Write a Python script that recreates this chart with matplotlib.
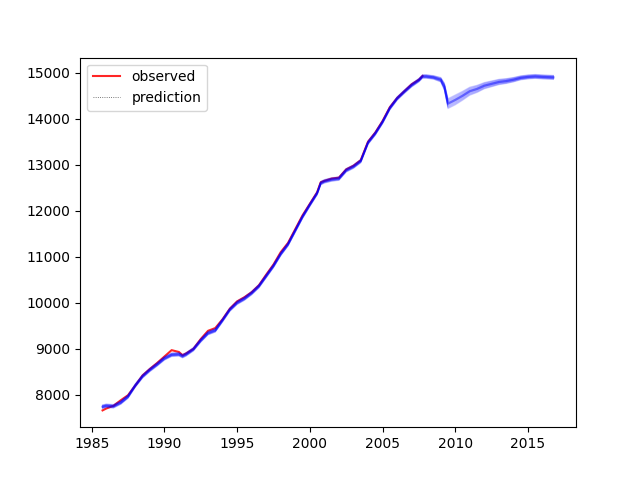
import numpy as np
import matplotlib
matplotlib.use("Agg")
import matplotlib.pyplot as plt

obs_t = [1985.75, 1986.0, 1986.5, 1987.0, 1987.5, 1988.0, 1988.5, 1989.0, 1989.5, 1990.0,
         1990.5, 1991.0, 1991.25, 1991.5, 1992.0, 1992.5, 1993.0, 1993.5, 1994.0, 1994.5,
         1995.0, 1995.5, 1996.0, 1996.5, 1997.0, 1997.5, 1998.0, 1998.5, 1999.0, 1999.5,
         2000.0, 2000.5, 2000.75, 2001.0, 2001.5, 2002.0, 2002.5, 2003.0, 2003.5, 2004.0,
         2004.5, 2005.0, 2005.5, 2006.0, 2006.5, 2007.0, 2007.5, 2007.75]
obs_v = [7660, 7700, 7760, 7880, 7990, 8200, 8420, 8560, 8690, 8830,
         8970, 8930, 8860, 8900, 9000, 9210, 9390, 9450, 9640, 9870,
         10030, 10120, 10230, 10380, 10610, 10830, 11100, 11300, 11600, 11900,
         12150, 12400, 12620, 12650, 12700, 12720, 12900, 12980, 13100, 13500,
         13700, 13950, 14250, 14450, 14600, 14750, 14850, 14930]

pred_t = [1985.75, 1986.0, 1986.5, 1987.0, 1987.5, 1988.0, 1988.5, 1989.0, 1989.5, 1990.0,
          1990.5, 1991.0, 1991.25, 1991.5, 1992.0, 1992.5, 1993.0, 1993.5, 1994.0, 1994.5,
          1995.0, 1995.5, 1996.0, 1996.5, 1997.0, 1997.5, 1998.0, 1998.5, 1999.0, 1999.5,
          2000.0, 2000.5, 2000.75, 2001.0, 2001.5, 2002.0, 2002.5, 2003.0, 2003.5, 2004.0,
          2004.5, 2005.0, 2005.5, 2006.0, 2006.5, 2007.0, 2007.5, 2007.75, 2008.0, 2008.5,
          2009.0, 2009.25, 2009.5, 2010.0, 2010.5, 2011.0, 2011.5, 2012.0, 2012.5, 2013.0,
          2013.5, 2014.0, 2014.5, 2015.0, 2015.5, 2016.0, 2016.75]
pred_v = [7740, 7760, 7750, 7830, 7960, 8200, 8400, 8540, 8660, 8790,
          8870, 8880, 8840, 8880, 8990, 9180, 9340, 9400, 9620, 9850,
          10000, 10090, 10210, 10360, 10580, 10800, 11060, 11270, 11570, 11870,
          12130, 12380, 12600, 12640, 12680, 12700, 12880, 12960, 13080, 13480,
          13680, 13930, 14230, 14440, 14590, 14730, 14840, 14920, 14920, 14900,
          14850, 14700, 14330, 14410, 14500, 14600, 14650, 14720, 14760, 14800,
          14820, 14850, 14890, 14910, 14920, 14910, 14900]
pred_spread = [40, 40, 40, 40, 40, 40, 40, 40, 40, 40,
               40, 40, 40, 40, 40, 40, 40, 40, 40, 40,
               40, 40, 40, 40, 40, 40, 40, 40, 40, 40,
               40, 40, 40, 40, 40, 40, 40, 40, 40, 40,
               40, 40, 40, 40, 40, 40, 40, 40, 40, 40,
               50, 80, 110, 110, 100, 90, 80, 70, 65, 60,
               55, 50, 45, 45, 45, 45, 45]

fig, ax = plt.subplots(figsize=(6.4, 4.8), dpi=100)
ax.plot(obs_t, obs_v, color="red", lw=1.5, alpha=0.85, label="observed", zorder=2)
pv = np.array(pred_v, float)
ps = np.array(pred_spread, float)
for k in np.linspace(-1, 1, 21):
    ax.plot(pred_t, pv + k * ps, color="blue", lw=0.8, alpha=0.12, zorder=3)
ax.plot(pred_t, pv, color="blue", lw=1.6, alpha=0.45, zorder=3)
ax.plot([], [], color="0.3", lw=0.6, ls=":", label="prediction")
ax.legend(loc="upper left")
fig.savefig("out.png")
